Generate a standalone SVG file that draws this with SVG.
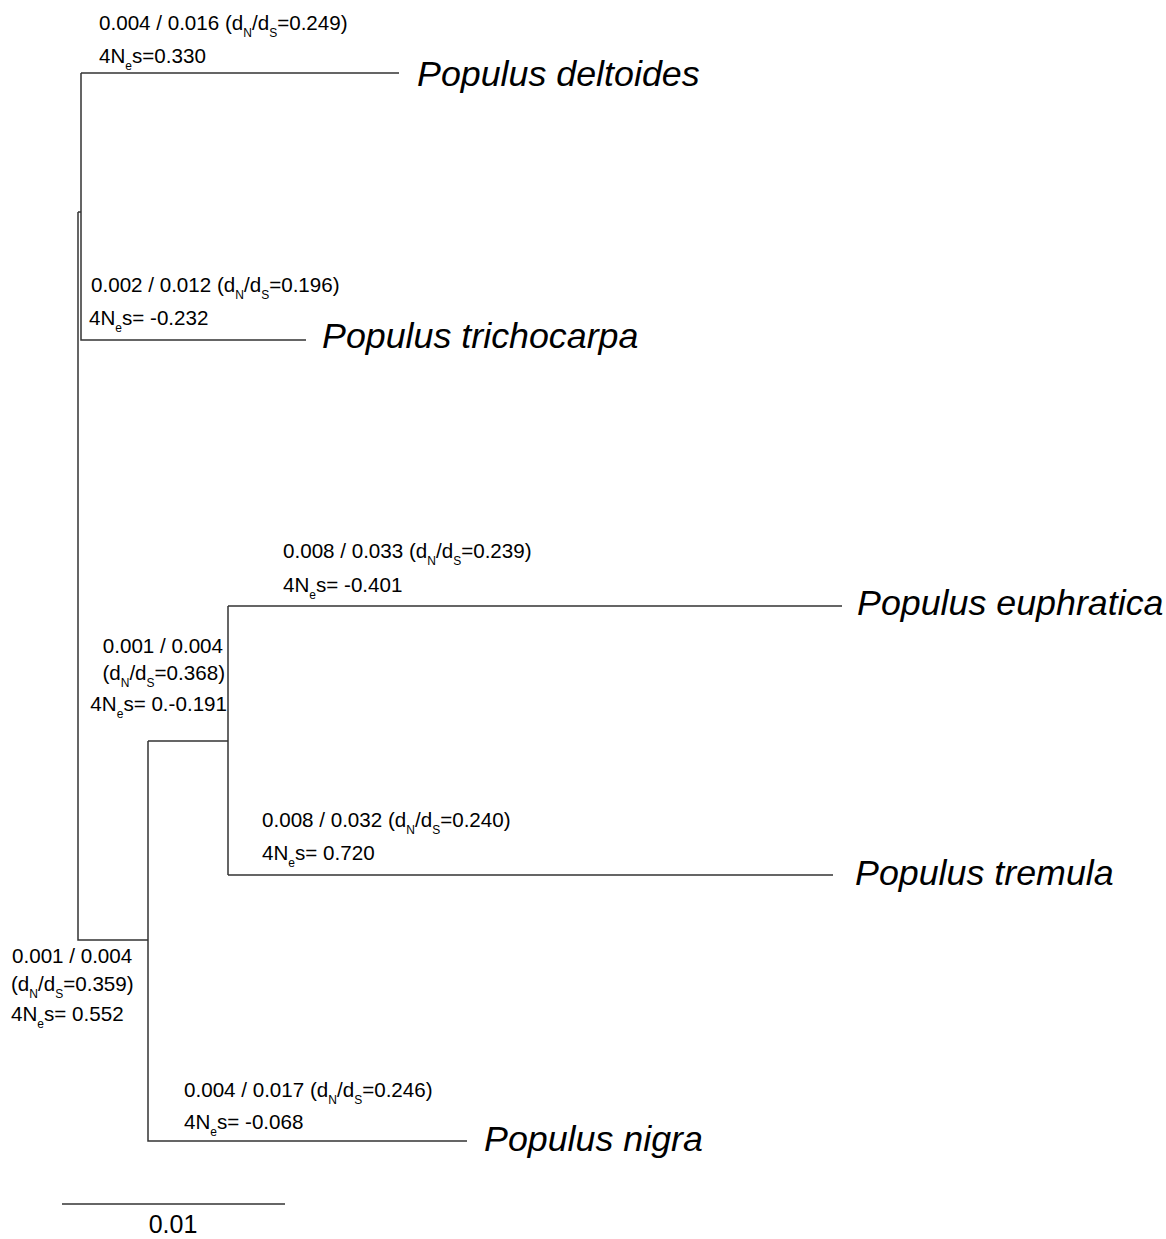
<svg xmlns="http://www.w3.org/2000/svg" width="1166" height="1239" viewBox="0 0 1166 1239">
<style>
.br{fill:none;stroke:#333;stroke-width:1.5}
.lb{font-family:"Liberation Sans",Arial,sans-serif;font-size:20.6px;fill:#000}
.sp{font-family:"Liberation Sans",Arial,sans-serif;font-size:35.8px;font-style:italic;fill:#000}
.sb{font-size:12px}
</style>
<rect width="1166" height="1239" fill="#fff"/>
<g id="connectors">
<path class="br" d="M81,73H399M81,73V340H306M78,212H81M78,212V940H148M148,741V1141H467M148,741H228M228,606V875M228,606H842M228,875H833"/>
</g>
<g id="node-deltoides">
<text class="lb" x="99" y="30">0.004 / 0.016 (d<tspan class="sb" dy="7">N</tspan><tspan dy="-7">/d</tspan><tspan class="sb" dy="7">S</tspan><tspan dy="-7">=0.249)</tspan></text>
<text class="lb" x="99" y="63">4N<tspan class="sb" dy="7">e</tspan><tspan dy="-7">s=0.330</tspan></text>
<text class="sp" x="417" y="86">Populus deltoides</text>
</g>
<g id="node-trichocarpa">
<text class="lb" x="91" y="292">0.002 / 0.012 (d<tspan class="sb" dy="7">N</tspan><tspan dy="-7">/d</tspan><tspan class="sb" dy="7">S</tspan><tspan dy="-7">=0.196)</tspan></text>
<text class="lb" x="89" y="325">4N<tspan class="sb" dy="7">e</tspan><tspan dy="-7">s= -0.232</tspan></text>
<text class="sp" x="322" y="348">Populus trichocarpa</text>
</g>
<g id="node-euphratica">
<text class="lb" x="283" y="558">0.008 / 0.033 (d<tspan class="sb" dy="7">N</tspan><tspan dy="-7">/d</tspan><tspan class="sb" dy="7">S</tspan><tspan dy="-7">=0.239)</tspan></text>
<text class="lb" x="283" y="592">4N<tspan class="sb" dy="7">e</tspan><tspan dy="-7">s= -0.401</tspan></text>
<text class="sp" x="857" y="615">Populus euphratica</text>
</g>
<g id="node-inner-euph-trem">
<text class="lb" x="223" y="653" text-anchor="end">0.001 / 0.004</text>
<text class="lb" x="225" y="680" text-anchor="end">(d<tspan class="sb" dy="7">N</tspan><tspan dy="-7">/d</tspan><tspan class="sb" dy="7">S</tspan><tspan dy="-7">=0.368)</tspan></text>
<text class="lb" x="227" y="711" text-anchor="end">4N<tspan class="sb" dy="7">e</tspan><tspan dy="-7">s= 0.-0.191</tspan></text>
</g>
<g id="node-tremula">
<text class="lb" x="262" y="827">0.008 / 0.032 (d<tspan class="sb" dy="7">N</tspan><tspan dy="-7">/d</tspan><tspan class="sb" dy="7">S</tspan><tspan dy="-7">=0.240)</tspan></text>
<text class="lb" x="262" y="860">4N<tspan class="sb" dy="7">e</tspan><tspan dy="-7">s= 0.720</tspan></text>
<text class="sp" x="855" y="885">Populus tremula</text>
</g>
<g id="node-inner-root">
<text class="lb" x="12" y="963">0.001 / 0.004</text>
<text class="lb" x="11" y="991">(d<tspan class="sb" dy="7">N</tspan><tspan dy="-7">/d</tspan><tspan class="sb" dy="7">S</tspan><tspan dy="-7">=0.359)</tspan></text>
<text class="lb" x="11" y="1021">4N<tspan class="sb" dy="7">e</tspan><tspan dy="-7">s= 0.552</tspan></text>
</g>
<g id="node-nigra">
<text class="lb" x="184" y="1097">0.004 / 0.017 (d<tspan class="sb" dy="7">N</tspan><tspan dy="-7">/d</tspan><tspan class="sb" dy="7">S</tspan><tspan dy="-7">=0.246)</tspan></text>
<text class="lb" x="184" y="1129">4N<tspan class="sb" dy="7">e</tspan><tspan dy="-7">s= -0.068</tspan></text>
<text class="sp" x="484" y="1151">Populus nigra</text>
</g>
<g id="scale-bar">
<path class="br" d="M62,1204H285"/>
<text class="lb" x="173" y="1233" text-anchor="middle" style="font-size:25px">0.01</text>
</g>
</svg>
